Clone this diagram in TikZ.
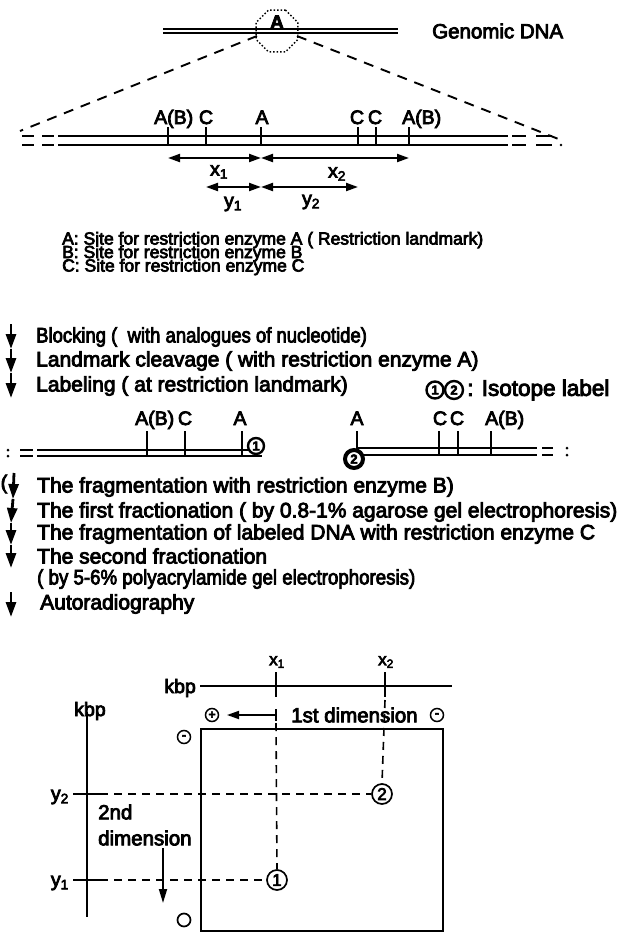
\documentclass[tikz,border=0pt]{standalone}
\usepackage{fontspec}
\setmainfont{Liberation Sans}[FakeBold=4]
\usetikzlibrary{arrows.meta,shapes.geometric}
\begin{document}
\begin{tikzpicture}[x=1pt,y=-1pt,
  txt/.style={font=\fontsize{21}{22}\selectfont, inner sep=0pt, anchor=west},
  lab/.style={font=\fontsize{19.5}{20}\selectfont, inner sep=0pt, anchor=base},
  labw/.style={font=\fontsize{19.5}{20}\selectfont, inner sep=0pt, anchor=base west},
  leg/.style={font=\fontsize{17.5}{18}\selectfont, inner sep=0pt, anchor=west},
  sub/.style={font=\fontsize{19.5}{20}\selectfont, inner sep=0pt},
  dna/.style={line width=2.4pt},
  thindna/.style={line width=1.6pt},
  tick/.style={line width=1.9pt},
  dashln/.style={line width=1.9pt, dash pattern=on 10pt off 8pt},
  gdash/.style={line width=1.6pt, dash pattern=on 8pt off 6pt},
  steparrow/.style={line width=2.8pt, -{Triangle[length=15pt,width=10pt]}},
  dimarrow/.style={line width=2pt, {Triangle[length=12pt,width=8pt]}-{Triangle[length=12pt,width=8pt]}},
  iso/.style={circle, draw, line width=2.4pt, minimum size=17pt, inner sep=0pt, font=\fontsize{13}{13}\selectfont\bfseries},
  spot/.style={circle, draw, line width=1.7pt, minimum size=20pt, inner sep=0pt, font=\fontsize{17}{17}\selectfont},
  pm/.style={circle, draw, line width=1.5pt, minimum size=13pt, inner sep=0pt, font=\fontsize{12}{12}\selectfont\bfseries},
]
\useasboundingbox (0,0) rectangle (619,935);

% ---------- Genomic DNA ----------
\draw[thindna] (163,29) -- (398,29);
\draw[thindna] (163,33) -- (398,33);
\node[regular polygon, regular polygon sides=8, draw, dotted, line width=1.5pt, minimum size=45pt, inner sep=0pt] (oct) at (277,31) {};
\node[font=\fontsize{19}{19}\selectfont\bfseries, inner sep=0pt] (octA) at (277,22) {A};
\node[txt, font=\fontsize{20.5}{22}\selectfont] (gdna) at (432,31) {Genomic DNA};
\coordinate (dl0) at (257,36);
\coordinate (dr0) at (297,36);
\coordinate (dl1) at (20,131);
\coordinate (dr1) at (561,140);
\draw[dashln] (dl0) -- (dl1);
\draw[dashln] (dr0) -- (dr1);

% ---------- main map ----------
\draw[dna] (58,136) -- (508,136);
\draw[dna] (58,145) -- (508,145);
\draw[dna] (22,136) -- (34,136) (42,136) -- (54,136) (22,145) -- (34,145) (42,145) -- (54,145);
\draw[dna] (512,136) -- (526,136) (536,136) -- (552,136) (512,145) -- (526,145) (536,145) -- (552,145);
\fill (561,145) circle (1.3pt);
\foreach \x in {168,206,261,358,376,409} \draw[tick] (\x,127) -- (\x,145);
\node[labw] (mAB1) at (154,124) {A(B)};
\node[lab] (mC1) at (206,124) {C};
\node[lab] (mA) at (262,124) {A};
\node[lab] (mC2) at (357,124) {C};
\node[lab] (mC3) at (375,124) {C};
\node[labw] (mAB2) at (402,124) {A(B)};
\coordinate (ab1) at (168,158);
\coordinate (am) at (261,158);
\coordinate (ab2) at (409,158);
\coordinate (yc1) at (206,187);
\coordinate (ym) at (261,187);
\coordinate (yc2) at (358,187);
\draw[dimarrow] (ab1) -- (am);
\draw[dimarrow] (am) -- (ab2);
\draw[dimarrow] (yc1) -- (ym);
\draw[dimarrow] (ym) -- (yc2);
\node[sub] (lx1) at (219,172) {x\textsubscript{1}};
\node[sub] (lx2) at (337,174) {x\textsubscript{2}};
\node[sub] (ly1) at (233,204) {y\textsubscript{1}};
\node[sub] (ly2) at (311,202) {y\textsubscript{2}};

% ---------- legend ----------
\node[leg] (legA) at (62,240) {A: Site for restriction enzyme A ( Restriction landmark)};
\node[leg] (legB) at (62,253.5) {B: Site for restriction enzyme B};
\node[leg] (legC) at (62,267) {C: Site for restriction enzyme C};

% ---------- steps ----------
\node[txt] (s1) at (36,337) {\scalebox{0.88}[1]{Blocking (\ \ with analogues of nucleotide)}};
\node[txt] (s2) at (36,361) {Landmark cleavage ( with restriction enzyme A)};
\node[txt] (s3) at (36,386) {Labeling ( at restriction landmark)};
\coordinate (a0) at (11,324);
\coordinate (a1) at (11,349);
\coordinate (a2) at (11,373);
\coordinate (a3) at (11,398);
\draw[steparrow] (a0) -- (a1);
\draw[steparrow] (a1) -- (a2);
\draw[steparrow] (a2) -- (a3);

% isotope legend
\node[iso] (i1) at (435,390) {1};
\node[iso, minimum size=18pt] (i2) at (454,390) {2};
\node[txt, font=\fontsize{22.5}{23}\selectfont] (isotxt) at (467,390) {: Isotope label};

% ---------- fragments ----------
\fill (8,450) circle (1.5pt) (8,456) circle (1.5pt);
\draw[line width=2.4pt] (20,450) -- (33,450) (20,456) -- (33,456);
\draw[line width=2.4pt] (37,450) -- (250,450);
\draw[line width=2.4pt] (37,456) -- (262,456);
\foreach \x in {147,185,242} \draw[tick] (\x,431) -- (\x,456);
\node[labw] (fAB1) at (135,425) {A(B)};
\node[lab] (fC1) at (185,425) {C};
\node[lab] (fA1) at (240,425) {A};
\node[iso, fill=white, minimum size=16pt] (f1) at (256,446) {1};

\draw[line width=2.4pt] (357,448) -- (537,448);
\draw[line width=2.4pt] (357,455) -- (537,455);
\draw[line width=2.4pt] (542,448) -- (553,448) (542,455) -- (553,455);
\fill (567,448) circle (1.5pt) (567,455) circle (1.5pt);
\foreach \x in {357,439,458,491} \draw[tick] (\x,431) -- (\x,455);
\node[lab] (fA2) at (357,425) {A};
\node[lab] (fC2) at (440,425) {C};
\node[lab] (fC3) at (457,425) {C};
\node[labw] (fAB2) at (485,425) {A(B)};
\node[iso, line width=4pt, minimum size=18pt, fill=white] (f2) at (354,459) {2};

% ---------- more steps ----------
\node[inner sep=0pt, font=\fontsize{20}{22}\selectfont] (par) at (4,484) {(};
\node[txt] (s4) at (37,487) {The fragmentation with restriction enzyme B)};
\node[txt] (s5) at (37,512) {The first fractionation ( by 0.8-1\% agarose gel electrophoresis)};
\node[txt] (s6) at (37,534) {The fragmentation of labeled DNA with restriction enzyme C};
\node[txt] (s7) at (37,556) {The second fractionation};
\node[txt] (s7b) at (37,579) {\scalebox{0.89}[1]{( by 5-6\% polyacrylamide gel electrophoresis)}};
\node[txt] (s8) at (40,604) {Autoradiography};
\coordinate (b0) at (14,473);
\coordinate (b1) at (13,499);
\coordinate (b2) at (11,523);
\coordinate (b3) at (11,545);
\coordinate (b4) at (11,568);
\coordinate (c0) at (11,592);
\coordinate (c1) at (11,617);
\draw[steparrow] (b0) -- (b1);
\draw[steparrow] (b1) -- (b2);
\draw[steparrow] (b2) -- (b3);
\draw[steparrow] (b3) -- (b4);
\draw[steparrow] (c0) -- (c1);

% ---------- 2D gel ----------
\node[sub, font=\fontsize{17}{18}\selectfont] (gx1) at (277,662) {x\textsubscript{1}};
\node[sub, font=\fontsize{17}{18}\selectfont] (gx2) at (386,662) {x\textsubscript{2}};
\draw[line width=1.7pt] (276,672) -- (276,697);
\draw[line width=1.7pt] (385,672) -- (385,697);
\coordinate (k0) at (200,686);
\coordinate (k1) at (452,686);
\draw[line width=1.7pt] (k0) -- (k1);
\node[sub, anchor=east] (kbp1) at (196,688) {kbp};

\node[pm] (plus) at (212,715) {+};
\coordinate (arrS) at (276,715);
\coordinate (arrE) at (227,715);
\draw[line width=1.8pt, -{Triangle[length=12pt,width=8pt]}] (arrS) -- (arrE);
\draw[line width=1.7pt] (276,709) -- (276,721);
\node[txt, font=\fontsize{20.5}{22}\selectfont] (dim1) at (291,715) {1st dimension};
\node[pm] (minus1) at (437,715) {-};

\draw[line width=1.8pt] (201,729) rectangle (443,931);

\node[spot] (sp1) at (277,880) {1};
\node[spot] (sp2) at (382,794) {2};
\draw[gdash] (276,723) -- (sp1.north);
\draw[gdash] (385,700) -- (sp2.north);

\draw[line width=1.7pt] (87,712) -- (87,917);
\node[sub] (kbp2) at (90,711) {kbp};
\draw[line width=1.7pt] (73,794) -- (100,794);
\draw[line width=1.7pt] (73,880) -- (100,880);
\draw[gdash] (100,794) -- (sp2.west);
\draw[gdash] (100,880) -- (sp1.west);
\node[sub, anchor=east] (gy2) at (69,797) {y\textsubscript{2}};
\node[sub, anchor=east] (gy1) at (69,883) {y\textsubscript{1}};
\node[txt, font=\fontsize{20.5}{22}\selectfont] (dim2a) at (98,812) {2nd};
\node[txt, font=\fontsize{20.5}{22}\selectfont] (dim2b) at (98,838) {dimension};
\coordinate (d0) at (163,848);
\coordinate (d1) at (163,903);
\draw[line width=1.8pt, -{Triangle[length=14pt,width=8pt]}] (d0) -- (d1);
\node[pm] (minus2) at (184,737) {-};
\node[circle, draw, line width=1.7pt, minimum size=13pt, inner sep=0pt] (oring) at (184,920) {};
\end{tikzpicture}
\end{document}
